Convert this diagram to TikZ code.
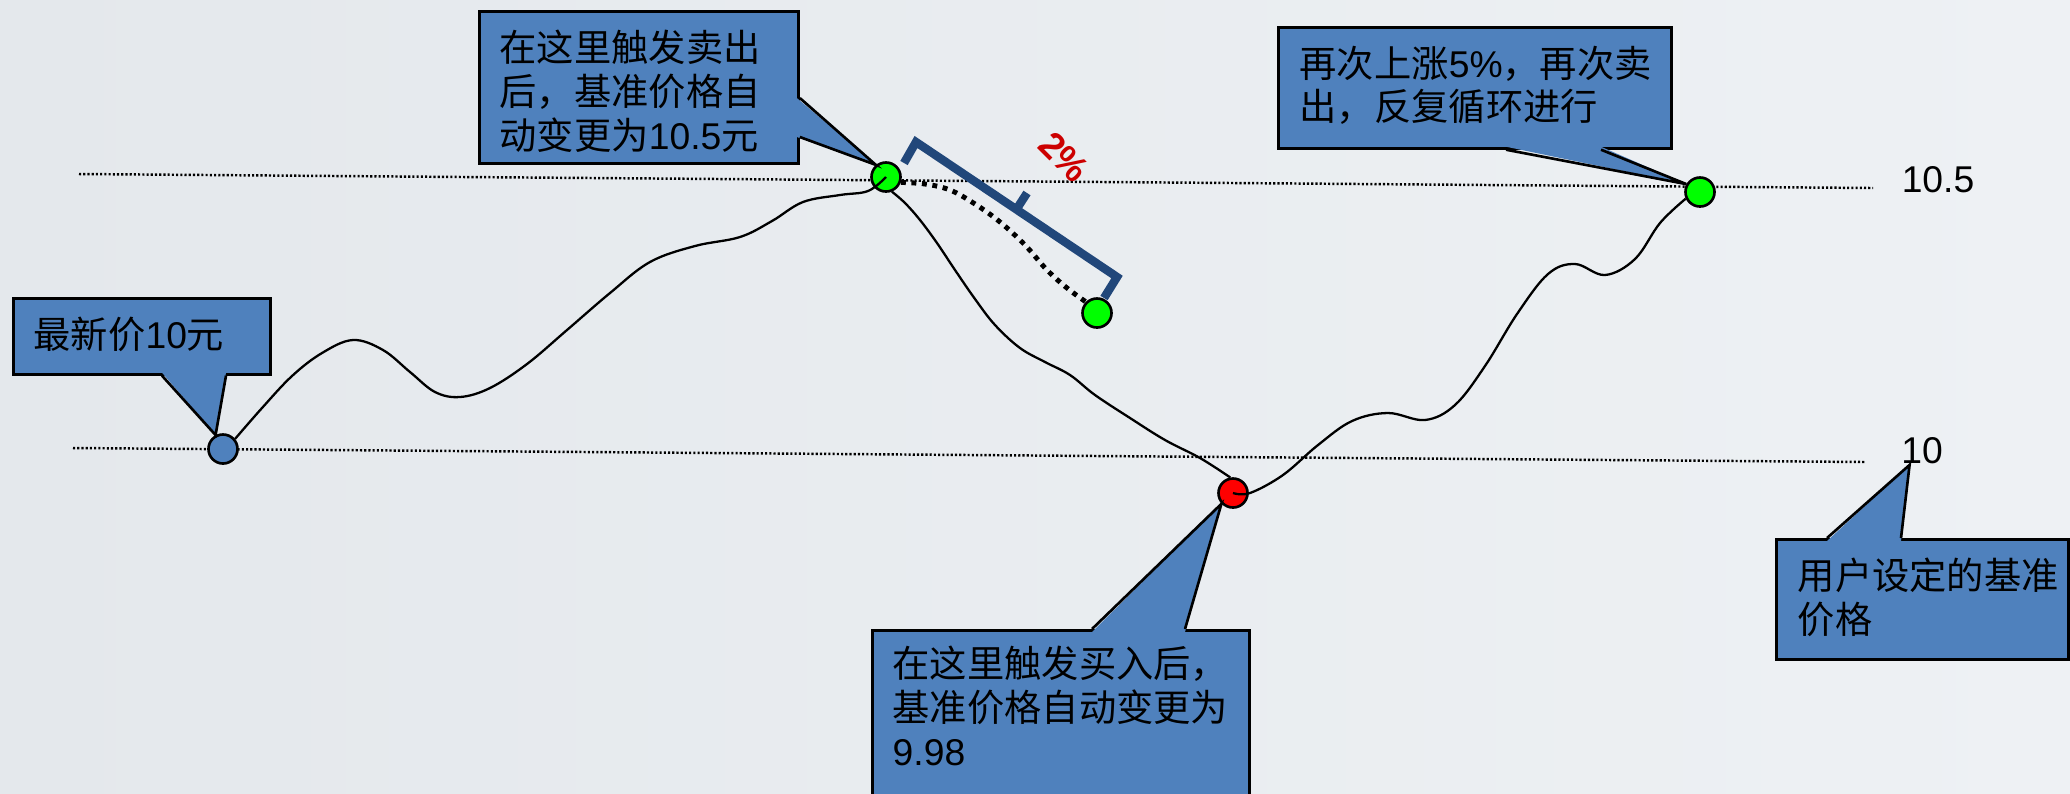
\documentclass[tikz,border=0pt]{standalone}
\usepackage{fontspec}
\setmainfont{Liberation Sans}
\newfontfamily\cjk{Noto Sans CJK SC}
\usetikzlibrary{calc}
\definecolor{bgleft}{RGB}{228,232,236}
\definecolor{bgright}{RGB}{238,241,244}
\definecolor{callblue}{RGB}{79,129,189}
\definecolor{bracketblue}{RGB}{33,71,122}
\definecolor{pctred}{RGB}{204,0,0}

\begin{document}
\begin{tikzpicture}[x=0.01cm, y=-0.01cm,
    refline/.style={line width=0.7pt, dash pattern=on 0.6pt off 0.6pt},
    pricecurve/.style={line width=0.65pt},
    dropline/.style={line width=1.4pt, dash pattern=on 1.4pt off 1.6pt},
    pricedot/.style={circle, draw, line width=0.75pt, minimum size=0.29cm, inner sep=0pt},
    callbox/.style={draw, fill=callblue, line width=0.75pt, inner sep=0pt, anchor=north west},
    calltext/.style={anchor=north west, align=left, inner sep=0pt, font=\fontsize{10.6}{12.5}\selectfont},
    callfill/.style={fill=callblue},
    callside/.style={line width=0.75pt},
    bracketline/.style={draw=bracketblue, line width=2.4pt},
    pricelabel/.style={inner sep=0pt, font=\fontsize{10.6}{12.5}\selectfont}]

  \shade[use as bounding box, left color=bgleft, right color=bgright] (0,0) rectangle (2070,793);

  % the two reference prices
  \draw[refline] (79,174) -- (1873,188);
  \draw[refline] (73,448) -- (1866,462);

  \node[pricedot, fill=callblue] (b0) at (223,449) {};
  \node[pricedot, fill=green] (g1) at (886,177) {};
  \node[pricedot, fill=green] (g2) at (1097,313) {};
  \node[pricedot, fill=red] (r1) at (1233,493) {};
  \node[pricedot, fill=green] (g3) at (1700,192) {};

  \draw[pricecurve] plot[smooth, tension=0.6] coordinates {(b0.40) (262,408) (292,376) (322,353) (353,340) (383,350) (410,372) (435,392) (460,397) (490,388) (527,364) (567,330) (610,293) (650,262) (695,246) (740,237) (772,221) (803,202) (840,195) (868,191) (g1.center)};
  \draw[pricecurve] plot[smooth, tension=0.6] coordinates {(g1.-68) (905,203) (920,220) (937,243) (955,270) (975,299) (995,325) (1020,348) (1045,362) (1070,375) (1095,395) (1130,418) (1165,440) (1200,458) (r1.100)};
  \draw[pricecurve] plot[smooth, tension=0.6] coordinates {(r1.center) (1250,493) (1283,475) (1318,445) (1352,421) (1388,413) (1425,420) (1455,405) (1485,366) (1517,314) (1548,274) (1575,264) (1605,275) (1635,259) (1660,223) (g3.205)};
  \draw[dropline] plot[smooth, tension=0.6] coordinates {(g1.-20) (925,184) (950,190) (975,204) (1000,222) (1025,245) (1047,270) (1067,288) (g2.135)};

  \draw[bracketline] (904,163) -- (916,142) -- (1117,277) -- (1104,298);
  \draw[bracketline] (1016,210) -- (1027,193);
  \node[font=\bfseries\fontsize{10.5}{12}\selectfont, text=pctred, rotate=-45, inner sep=0pt] (pct) at (1064,157) {2\%};

  \node[callbox, minimum width=2.57cm, minimum height=0.76cm] (c1) at (12,297) {};
  \node[callbox, minimum width=3.19cm, minimum height=1.52cm] (c2) at (478,10) {};
  \node[callbox, minimum width=3.93cm, minimum height=1.21cm] (c3) at (1277,26) {};
  \node[callbox, minimum width=3.77cm, minimum height=2.00cm] (c4) at (871,629) {};
  \node[callbox, minimum width=2.92cm, minimum height=1.20cm] (c5) at (1775,538) {};

  \node[pricelabel] (l105) at (1938,180) {10.5};
  \node[pricelabel] (l10) at (1922,451) {10};

  \fill[callfill] ($(c1.south west)+(150,-3)$) -- (b0.118) -- ($(c1.south west)+(214,-3)$) -- cycle;
  \draw[callside] ($(c1.south west)+(150,0)$) -- (b0.118) -- ($(c1.south west)+(214,0)$);
  \fill[callfill] ($(c2.north east)+(-3,88)$) -- (g1.130) -- ($(c2.north east)+(-3,127)$) -- cycle;
  \draw[callside] ($(c2.north east)+(0,88)$) -- (g1.130) -- ($(c2.north east)+(0,127)$);
  \fill[callfill] ($(c3.south west)+(229,-3)$) -- (g3.150) -- ($(c3.south west)+(324,-3)$) -- cycle;
  \draw[callside] ($(c3.south west)+(229,0)$) -- (g3.150) -- ($(c3.south west)+(324,0)$);
  \fill[callfill] ($(c4.north west)+(221,3)$) -- (r1.-137) -- ($(c4.north west)+(314,3)$) -- cycle;
  \draw[callside] ($(c4.north west)+(221,0)$) -- (r1.-137) -- ($(c4.north west)+(314,0)$);
  \fill[callfill] ($(c5.north west)+(52,3)$) -- ($(l10.south west)+(9,0)$) -- ($(c5.north west)+(126,3)$) -- cycle;
  \draw[callside] ($(c5.north west)+(52,0)$) -- ($(l10.south west)+(9,0)$) -- ($(c5.north west)+(126,0)$);

  \node[calltext] (t1) at ($(c1.north west)+(21,19)$) {{\cjk 最新价}10{\cjk 元}};
  \node[calltext] (t2) at ($(c2.north west)+(21,19)$) {{\cjk 在这里触发卖出}\\{\cjk 后，基准价格自}\\{\cjk 动变更为}10.5{\cjk 元}};
  \node[calltext] (t3) at ($(c3.north west)+(22,19)$) {{\cjk 再次上涨}5\%{\cjk ，再次卖}\\{\cjk 出，反复循环进行}};
  \node[calltext] (t4) at ($(c4.north west)+(21,16)$) {{\cjk 在这里触发买入后，}\\{\cjk 基准价格自动变更为}\\9.98};
  \node[calltext] (t5) at ($(c5.north west)+(22,19)$) {{\cjk 用户设定的基准}\\{\cjk 价格}};
\end{tikzpicture}
\end{document}
